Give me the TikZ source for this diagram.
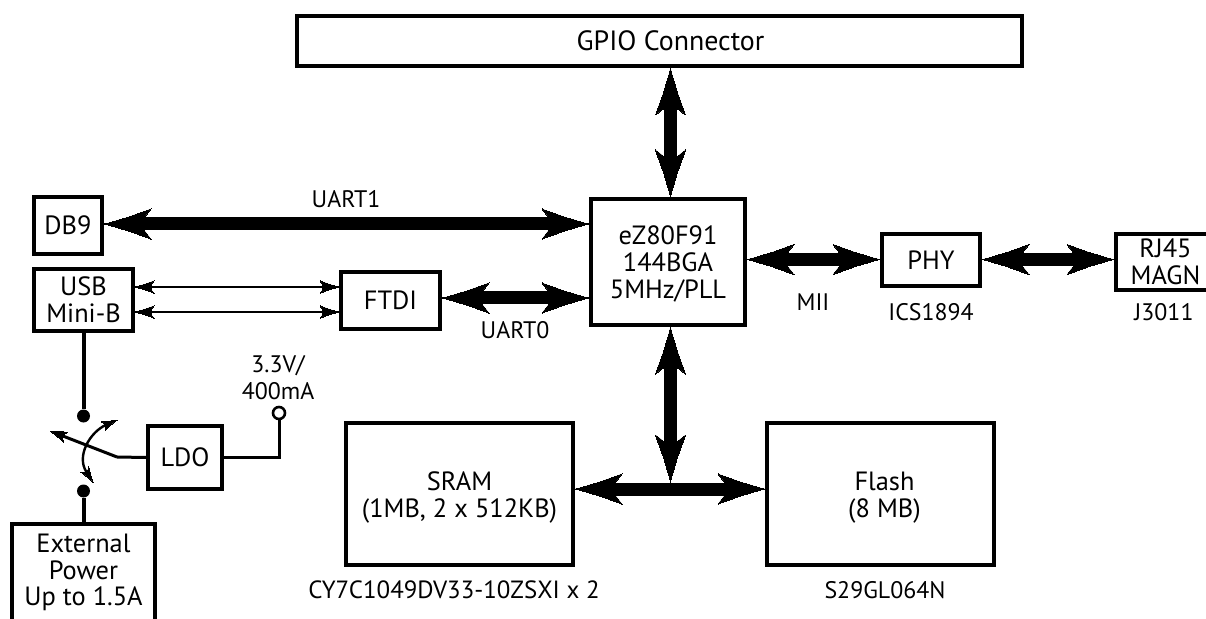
\documentclass[tikz,border=0pt]{standalone}
\usepackage{fontspec}
\setmainfont{PT Sans}
\usetikzlibrary{arrows.meta}
\pgfdeclarearrow{
  name=Spear,
  parameters={\the\pgfarrowlength},
  setup code={\pgfarrowssettipend{0pt}\pgfarrowssetlineend{-0.8\pgfarrowlength}%
    \pgfarrowssetvisualbackend{-\pgfarrowlength}\pgfarrowssetbackend{-\pgfarrowlength}%
    \pgfarrowsupperhullpoint{0pt}{0pt}\pgfarrowsupperhullpoint{-\pgfarrowlength}{0.33\pgfarrowlength}%
    \pgfarrowssavethe\pgfarrowlength},
  drawing code={%
    \pgfsetlinewidth{0pt}\pgfsetroundjoin
    \pgfpathmoveto{\pgfpoint{0pt}{0pt}}%
    \pgfpathcurveto{\pgfpoint{-0.16\pgfarrowlength}{0.03\pgfarrowlength}}{\pgfpoint{-0.30\pgfarrowlength}{0.09\pgfarrowlength}}{\pgfpoint{-0.50\pgfarrowlength}{0.14\pgfarrowlength}}%
    \pgfpathlineto{\pgfpoint{-\pgfarrowlength}{0.32\pgfarrowlength}}%
    \pgfpathlineto{\pgfpoint{-0.86\pgfarrowlength}{0.14\pgfarrowlength}}%
    \pgfpathlineto{\pgfpoint{-0.86\pgfarrowlength}{-0.14\pgfarrowlength}}%
    \pgfpathlineto{\pgfpoint{-\pgfarrowlength}{-0.32\pgfarrowlength}}%
    \pgfpathlineto{\pgfpoint{-0.50\pgfarrowlength}{-0.14\pgfarrowlength}}%
    \pgfpathcurveto{\pgfpoint{-0.30\pgfarrowlength}{-0.09\pgfarrowlength}}{\pgfpoint{-0.16\pgfarrowlength}{-0.03\pgfarrowlength}}{\pgfpoint{0pt}{0pt}}%
    \pgfpathclose\pgfusepathqfillstroke},
  defaults={length=47bp}
}
\tikzset{
  x=1bp,y=-1bp,
  box/.style={draw=black,line width=4bp,align=center,inner sep=0pt,font=\fontsize{26.5}{27}\selectfont},
  txt/.style={inner sep=0pt,align=center,font=\fontsize{24}{27}\selectfont},
  bus/.style={line width=13bp,{Spear}-{Spear}},
  thin arrow/.style={line width=2.6bp,{Spear[length=19bp]}-{Spear[length=19bp]}},
  wire/.style={line width=3bp},
  dot/.style={circle,fill=black,inner sep=0pt,minimum size=13bp},
}
\begin{document}
\begin{tikzpicture}
\useasboundingbox (0,0) rectangle (1206,619);
\node[box,minimum width=725bp,minimum height=50bp] (gpio) at (659.5,41) {\fontsize{28}{28}\selectfont\hspace*{22bp}GPIO Connector};
\node[box,minimum width=154bp,minimum height=126bp] (cpu) at (668,262) {\rule{0pt}{22bp}eZ80F91\\144BGA\\5MHz/PLL};
\node[box,minimum width=68bp,minimum height=57bp] (db9) at (68,225.5) {DB9};
\node[box,minimum width=99bp,minimum height=62bp] (usb) at (83.5,300) {USB\\Mini-B};
\node[box,minimum width=99bp,minimum height=57bp] (ftdi) at (390.5,300.5) {FTDI};
\node[box,minimum width=98bp,minimum height=52bp] (phy) at (931,260) {PHY};
\node[box,minimum width=99bp,minimum height=56bp] (rj) at (1165.5,262) {RJ45\\MAGN};
\node[box,minimum width=74bp,minimum height=63bp] (ldo) at (185,457.5) {LDO};
\node[box,minimum width=227bp,minimum height=142bp] (sram) at (459.5,494) {\rule{0pt}{26bp}SRAM\\(1MB, 2 x 512KB)};
\node[box,minimum width=227bp,minimum height=142bp] (flash) at (880.5,494) {\rule{0pt}{26bp}\hspace*{8bp}Flash\\\hspace*{8bp}(8 MB)};
\node[box,minimum width=143bp,minimum height=120bp,anchor=north] (ext) at (83.5,522) {};
\node[txt,font=\fontsize{26.5}{26.5}\selectfont] (extlabel) at (83.5,572.5) {External\\Power\\Up to 1.5A};
% buses
\coordinate (busx) at (670.5,0);
\coordinate (jn) at (0,489);
\coordinate (jt) at (0,482);
\draw[bus] (busx |- gpio.south) -- (busx |- cpu.north);
\draw[bus] (busx |- cpu.south) -- (busx |- jt);
\draw[bus] (sram.east |- jn) -- (flash.west |- jn);
\coordinate (u1) at (0,224);
\coordinate (u0) at (0,298);
\coordinate (mi) at (0,259.5);
\draw[bus] (db9.east |- u1) -- (cpu.west |- u1);
\draw[bus] (ftdi.east |- u0) -- (cpu.west |- u0);
\draw[bus] (cpu.east |- mi) -- (phy.west |- mi);
\draw[bus] (phy.east |- mi) -- (rj.west |- mi);
% USB-FTDI
\coordinate (t1) at (0,287);
\coordinate (t2) at (0,312);
\draw[thin arrow] (usb.east |- t1) -- (ftdi.west |- t1);
\draw[thin arrow] (usb.east |- t2) -- (ftdi.west |- t2);
% power
\node[dot] (d1) at (83.5,416) {};
\node[dot] (d2) at (83.5,491) {};
\draw[line width=4bp] (usb.south) -- (d1);
\draw[line width=4bp] (d2) -- (ext.north);
\coordinate (pivot) at (117,457);
\coordinate (lever) at (50,431);
\coordinate (swT) at (117,420);
\coordinate (swB) at (93,482);
\draw[wire] (ldo.west) -- (pivot);
\draw[wire,-{Spear[length=17bp]}] (pivot) -- (lever);
\draw[line width=2.4bp,{Spear[length=15bp]}-{Spear[length=15bp]}] (swT) .. controls (90,432) and (76,456) .. (swB);
\node[circle,draw=black,line width=2.6bp,fill=white,inner sep=0pt,minimum size=12bp] (out) at (279,413) {};
\draw[wire] (ldo.east) -| (out.south);
% labels
\node[txt] (l1) at (346,199) {UART1};
\node[txt] (l2) at (515,330) {UART0};
\node[txt] (l3) at (813,302) {MII};
\node[txt] (l4) at (931,312) {ICS1894};
\node[txt] (l5) at (1164,312) {J3011};
\node[txt] (l6) at (278,377.5) {3.3V/\\400mA};
\node[txt,font=\fontsize{25}{27}\selectfont] (l7) at (454,590) {CY7C1049DV33-10ZSXI x 2};
\node[txt] (l8) at (885,590) {S29GL064N};
\end{tikzpicture}
\end{document}
